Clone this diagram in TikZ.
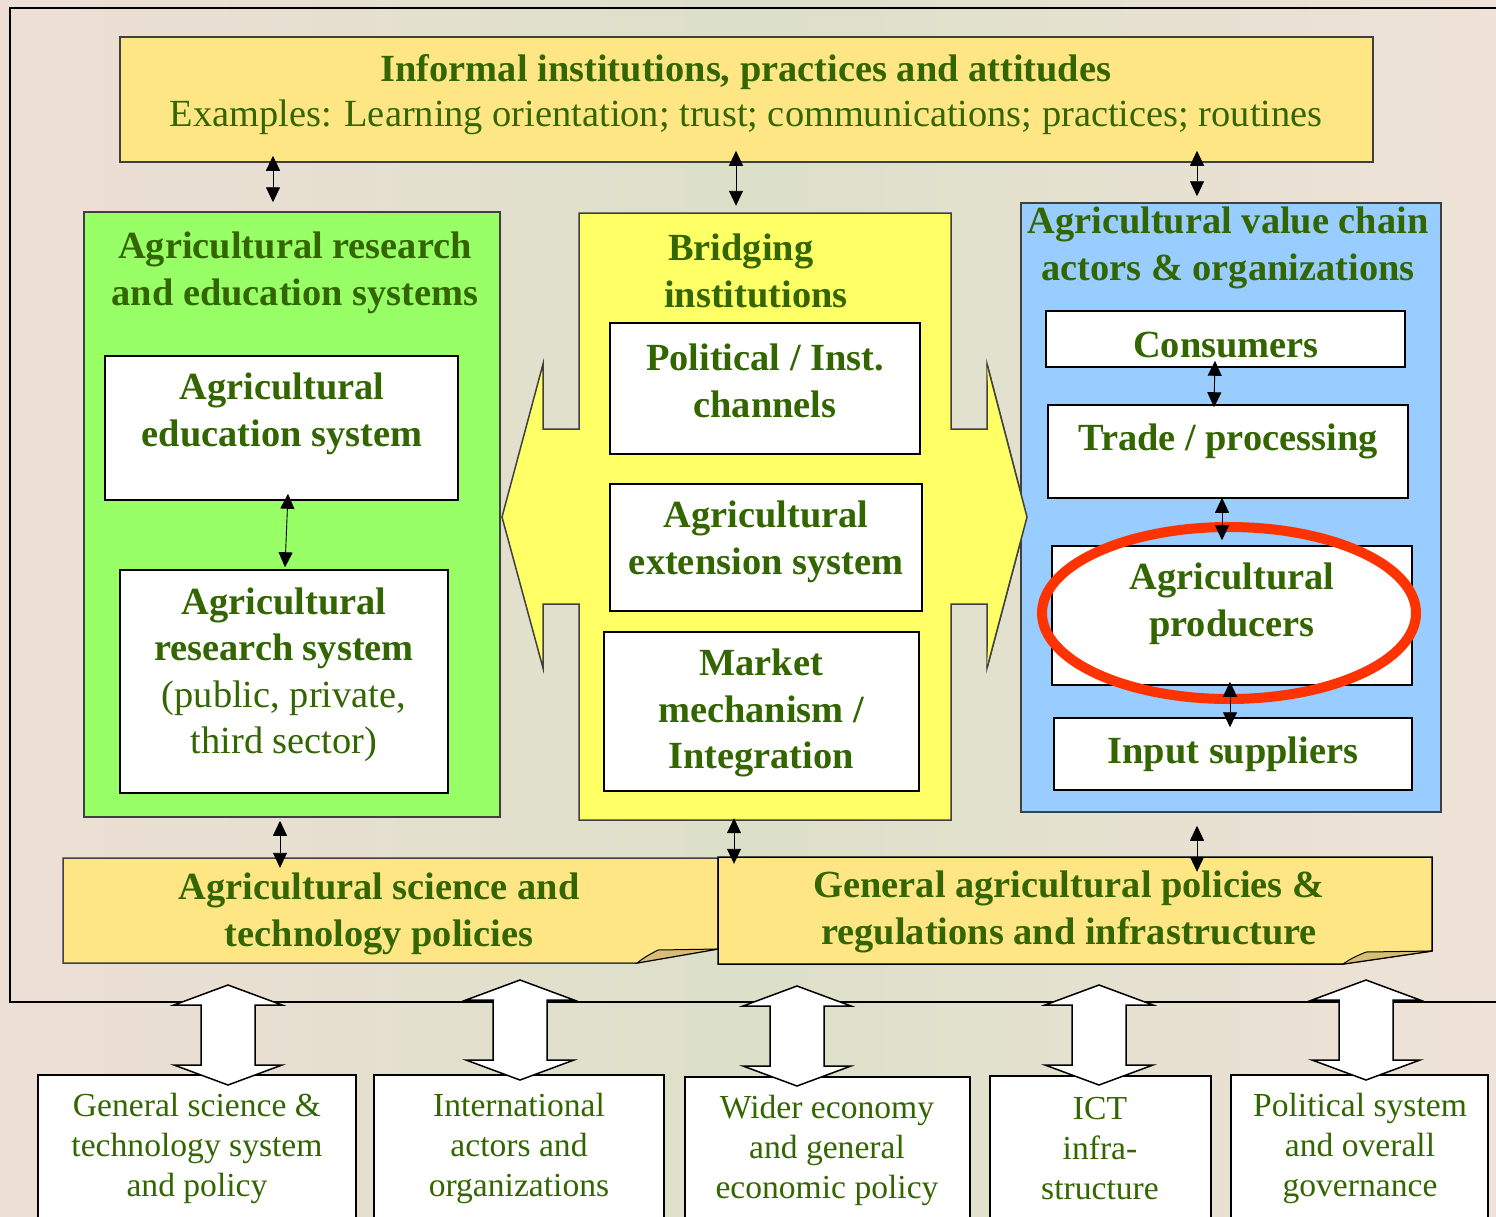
\documentclass[tikz,border=0pt]{standalone}
\usepackage{fontspec}
\setmainfont{Liberation Serif}
\usetikzlibrary{fit,arrows.meta,shapes.geometric}
\definecolor{txt}{HTML}{336600}
\definecolor{gold}{HTML}{FFE685}
\definecolor{curl}{HTML}{D6BE74}
\definecolor{lgreen}{HTML}{99FF66}
\definecolor{lyellow}{HTML}{FFFF66}
\definecolor{lblue}{HTML}{99CCFF}
\definecolor{ring}{HTML}{FF3300}
\definecolor{bgl}{HTML}{EEDFD6}
\definecolor{bgm}{HTML}{DCE0C8}
\definecolor{bgr}{HTML}{EFE2D8}
\tikzset{
  panel/.style={draw=black!75, line width=1.5pt, inner sep=0pt},
  wbox/.style={panel, draw=black, fill=white},
  tb/.style={text=txt, align=center, inner sep=0pt, font=\bfseries\fontsize{38.4}{46.5}\selectfont},
  tn/.style={text=txt, align=center, inner sep=0pt, font=\fontsize{38.4}{46.5}\selectfont},
  ts/.style={text=txt, align=center, inner sep=0pt, font=\fontsize{33.6}{40}\selectfont},
  dbl/.style={{Triangle[length=15pt,width=14pt]}-{Triangle[length=15pt,width=14pt]}, line width=0.9pt, draw=black},
  fatarrow/.style={draw=black, fill=white, line width=1.5pt, line join=miter},
}
% white two-headed block arrow: centre x, top tip y, bottom tip y
\newcommand\blockarrow[3]{%
  \draw[fatarrow] (#1,#2) -- ++(54,20) -- ++(-27,0) -- (#1+27,#3-20) -- ++(27,0)
    -- (#1,#3) -- (#1-54,#3-20) -- ++(27,0) -- (#1-27,#2+20) -- ++(-27,0) -- cycle;}
\begin{document}
\begin{tikzpicture}[x=1pt,y=-1pt]
% backdrop
\shade[left color=bgl, right color=bgr, middle color=bgm] (0,0) rectangle (1496,1216);
\useasboundingbox (0,0) rectangle (1496,1216);
% outer frame of the system
\draw[line width=1.5pt] (1500,8) -- (10,8) -- (10,1002) -- (1500,1002);

% informal institutions
\node[panel, fill=gold, fit={(120,37) (1373,162)}] (top) {};
\node[tb] at (746,72) {Informal institutions, practices and attitudes};
\node[tn] at (746,117) {Examples: Learning orientation; trust; communications; practices; routines};

% research and education
\node[panel, fill=lgreen, fit={(84,212) (500,817)}] (green) {};
\node[tb] at (295,273) {Agricultural research\\and education systems};
\node[wbox, fit={(105,356) (458,500)}] (edu) {};
\node[tb] at (282,414) {Agricultural\\education system};
\node[wbox, fit={(120,570) (448,793)}] (res) {};
\node[tn] at (284,675) {\textbf{Agricultural}\\\textbf{research system}\\(public, private,\\third sector)};

% bridging institutions with side arrows
\draw[panel, fill=lyellow, line join=miter]
  (579,213) -- (951,213) -- (951,429) -- (987,429) -- (987,364) -- (1027,517)
  -- (987,668) -- (987,604) -- (951,604) -- (951,820) -- (579,820) -- (579,604)
  -- (543,604) -- (543,668) -- (502,517) -- (543,364) -- (543,429) -- (579,429) -- cycle;
\node[inner sep=0pt, fit={(579,213) (951,820)}] (bridge) {};
\node[tb, align=left, anchor=west] at (664,271) {\hspace*{4pt}Bridging\\institutions};
\node[wbox, fit={(610,323) (920,454)}] (pol) {};
\node[tb] at (765,381) {Political / Inst.\\channels};
\node[wbox, fit={(610,484) (922,611)}] (ext) {};
\node[tb] at (766,542) {Agricultural\\extension system};
\node[wbox, fit={(604,632) (919,791)}] (mkt) {};
\node[tb] at (761,713) {Market\\mechanism /\\Integration};

% value chain
\node[panel, fill=lblue, fit={(1021,203) (1441,812)}] (blue) {};
\node[tb] at (1228,248) {Agricultural value chain\\actors \& organizations};
\node[wbox, fit={(1046,311) (1405,367)}] (cons) {};
\node[tb] at (1226,345) {Consumers};
\node[wbox, fit={(1048,405) (1408,498)}] (trade) {};
\node[tb] at (1228,441) {Trade / processing};
\node[wbox, fit={(1052,546) (1412,685)}] (prod) {};
\node[tb] at (1232,604) {Agricultural\\producers};
\node[wbox, fit={(1054,718) (1412,790)}] (inp) {};
\node[tb] at (1233,754) {Input suppliers};

% tip of the right-hand bridging arrow lies over the value chain edge
\fill[lyellow] (990,429) -- (987,364) -- (1027,517) -- (987,668) -- (990,604) -- cycle;
\draw[line width=1.5pt, draw=black!75] (987,364) -- (1027,517) -- (987,668);

% the producers are highlighted
\node[draw=ring, line width=10pt, ellipse, inner sep=0pt,
      minimum width=374pt, minimum height=172pt] (hl) at (1229,613) {};

% policy notes with curled corners
\node[inner sep=0pt, fit={(63,858) (718,963)}] (lnote) {};
\draw[panel, fill=gold] (63,858) -- (718,858) -- (718,949) -- (637,963) -- (63,963) -- cycle;
\draw[line width=1pt, fill=curl] (637,963) .. controls (645,957) .. (658,950) -- (718,949) -- cycle;
\node[tb] at (379,914) {Agricultural science and\\technology policies};
\node[inner sep=0pt, fit={(718,857) (1432,964)}] (rnote) {};
\draw[line width=1.5pt, fill=gold] (718,857) -- (1432,857) -- (1432,951) -- (1343,964) -- (718,964) -- cycle;
\draw[line width=1pt, fill=curl] (1343,964) .. controls (1352,958) .. (1366,952) -- (1432,951) -- cycle;
\node[tb] at (1069,912) {General agricultural policies \&\\regulations and infrastructure};

% links inside the system
\draw[dbl] ([xshift=-473.5pt,yshift=7pt]top.south) -- ([xshift=-19pt,yshift=9pt]green.north);
\draw[dbl] ([xshift=-10.5pt,yshift=12pt]top.south) -- ([xshift=-29pt,yshift=7pt]bridge.north);
\draw[dbl] ([xshift=450.5pt,yshift=12pt]top.south) -- ([xshift=-34pt,yshift=6pt]blue.north);
\draw[dbl] ([xshift=6.5pt,yshift=7pt]edu.south) -- ([xshift=1pt,yshift=2pt]res.north);
\draw[dbl] ([xshift=-10.5pt,yshift=7pt]cons.south) -- ([xshift=-14pt,yshift=-3pt]trade.north);
\draw[dbl] ([xshift=-6pt,yshift=1pt]trade.south) -- ([xshift=-10pt,yshift=5pt]prod.north);
\draw[dbl] ([xshift=-2pt,yshift=4pt]prod.south) -- ([xshift=-3pt,yshift=-10pt]inp.north);
\draw[dbl] ([xshift=-12pt,yshift=-3pt]green.south) -- ([xshift=-110.5pt,yshift=-10pt]lnote.north);
\draw[dbl] ([xshift=-31pt,yshift=2pt]bridge.south) -- ([xshift=-341pt,yshift=-7pt]rnote.north);
\draw[dbl] ([xshift=-34pt,yshift=-13pt]blue.south) -- ([xshift=122pt,yshift=-15pt]rnote.north);

% wider environment
\node[wbox, fit={(38,1075) (356,1230)}] (env1) {};
\node[ts] at (197,1148) {General science \&\\technology system\\and policy};
\node[wbox, fit={(374,1075) (664,1230)}] (env2) {};
\node[ts] at (519,1148) {International\\actors and\\organizations};
\node[wbox, fit={(685,1077) (970,1230)}] (env3) {};
\node[ts] at (827,1150) {Wider economy\\and general\\economic policy};
\node[wbox, fit={(990,1076) (1211,1230)}] (env4) {};
\node[ts] at (1100,1149) {ICT\\infra-\\structure};
\node[wbox, fit={(1231,1075) (1488,1230)}] (env5) {};
\node[ts] at (1360,1148) {Political system\\and overall\\governance};

\blockarrow{228}{985}{1085}
\blockarrow{520}{980}{1080}
\blockarrow{797}{986}{1086}
\blockarrow{1099}{985}{1085}
\blockarrow{1366}{980}{1080}
\end{tikzpicture}
\end{document}
